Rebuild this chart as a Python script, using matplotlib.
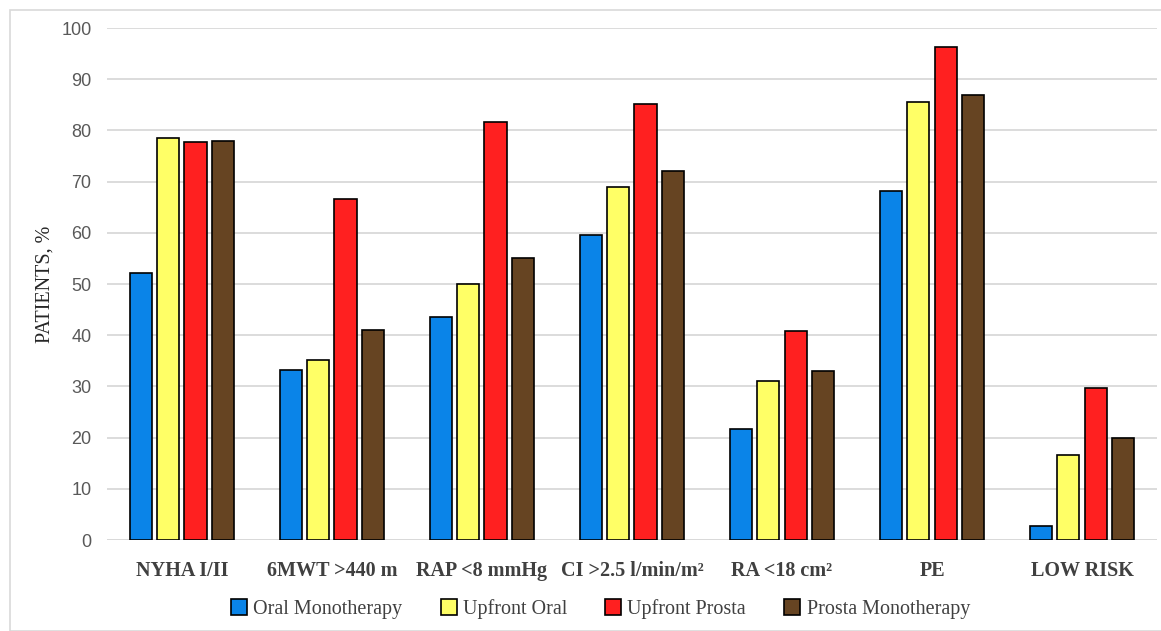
import numpy as np
import matplotlib
matplotlib.use("Agg")
import matplotlib.pyplot as plt
from matplotlib.patches import Rectangle

categories = ["NYHA I/II", "6MWT >440 m", "RAP <8 mmHg", "CI >2.5 l/min/m²",
              "RA <18 cm²", "PE", "LOW RISK"]
oral_mono = [52.2, 33.3, 43.5, 59.5, 21.7, 68.1, 2.8]
upfront_oral = [78.5, 35.1, 50.0, 69.0, 31.0, 85.6, 16.7]
upfront_prosta = [77.8, 66.7, 81.6, 85.2, 40.8, 96.2, 29.7]
prosta_mono = [77.9, 41.0, 55.0, 72.0, 33.0, 87.0, 20.0]

series = ["Oral Monotherapy", "Upfront Oral", "Upfront Prosta", "Prosta Monotherapy"]
colors = ["#0a84e8", "#ffff66", "#ff2020", "#664422"]

fig = plt.figure(figsize=(11.61, 6.31), dpi=100)
ax = fig.add_axes([0.092, 0.1442, 0.9046, 0.8114])

x = np.arange(len(categories))
width = 0.148
pitch = 0.182
for i, (vals, name, c) in enumerate(zip([oral_mono, upfront_oral, upfront_prosta, prosta_mono], series, colors)):
    ax.bar(x + (i - 1.5) * pitch, vals, width, color=c, edgecolor="black",
           linewidth=1.2, label=name, zorder=3)

ax.set_xlim(-0.5, len(categories) - 0.5)
ax.set_ylim(0, 100)
ax.set_yticks(range(0, 101, 10))
ax.grid(axis="y", color="#d9d9d9", linewidth=1.3, zorder=0)
for s in ax.spines.values():
    s.set_visible(False)
ax.axhline(0, color="#d9d9d9", linewidth=1.3, zorder=1)
ax.tick_params(axis="both", length=0)
ax.tick_params(axis="y", labelsize=13, labelcolor="#595959", pad=11)
for t in ax.get_yticklabels():
    t.set_family("Liberation Sans")
ax.set_xticks(x)
ax.set_xticklabels(categories, family="Liberation Serif", fontweight="bold",
                   fontsize=14.5, color="#404040")
ax.tick_params(axis="x", pad=15)
ax.set_ylabel("PATIENTS, %", family="Liberation Serif", fontsize=14.5, color="#262626", labelpad=5)

ax.legend(loc="upper center", bbox_to_anchor=(0.47, -0.08), ncol=4, frameon=False,
          prop={"family": "Liberation Serif", "size": 14.5}, handlelength=0.8,
          handleheight=0.8, handletextpad=0.3, columnspacing=1.9, labelcolor="#404040")

fig.patches.append(Rectangle((10 / 1161, 0), 1, 1 - 10 / 631, transform=fig.transFigure,
                             fill=False, edgecolor="#d9d9d9", linewidth=1.2))

fig.savefig("out.png", dpi=100)
